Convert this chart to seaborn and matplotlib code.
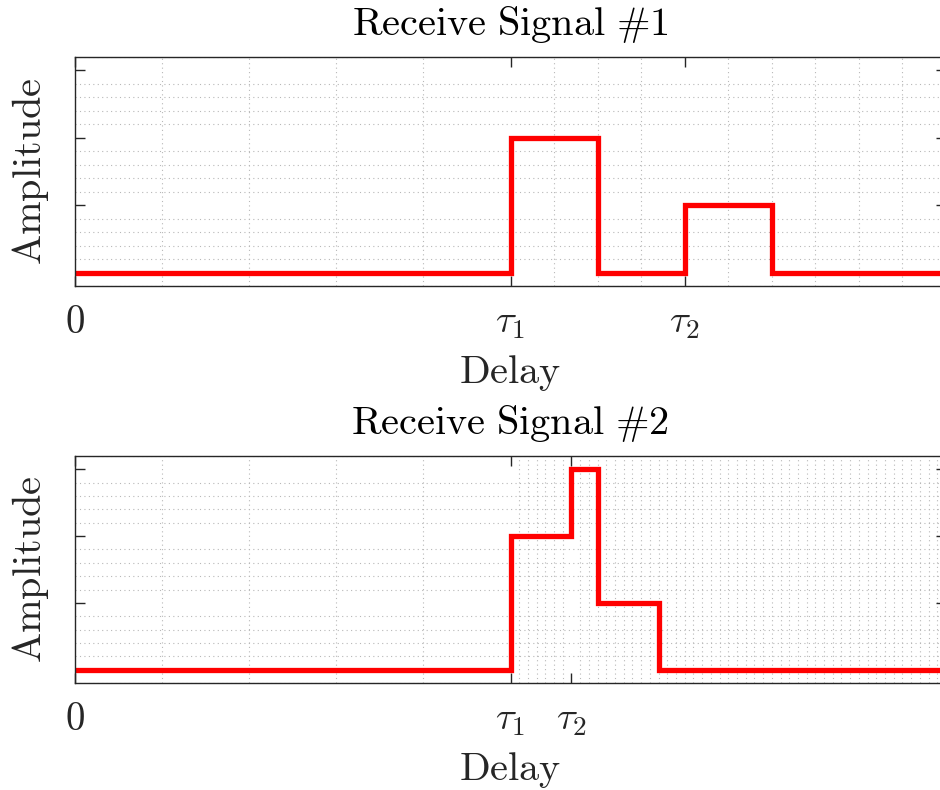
import numpy as np
import pandas as pd
import matplotlib
matplotlib.use("Agg")
import matplotlib.pyplot as plt
from matplotlib.ticker import FixedLocator
import seaborn as sns

# Received pulse trains (step edges and amplitude after each edge)
delay_1 = [0, 5, 6, 7, 8, 10]
amp_1 = [0, 2, 0, 1, 0, 0]
delay_2 = [0, 5, 5.7, 6, 6.7, 10]
amp_2 = [0, 2, 3, 1, 0, 0]

tau_1 = [5, 7]      # delays of the two echoes, signal 1
tau_2 = [5, 5.7]    # delays of the two echoes, signal 2
tick_labels = [r"$0$", r"$\tau_1$", r"$\tau_2$"]
titles = [r"$\mathrm{Receive\ Signal\ \#1}$", r"$\mathrm{Receive\ Signal\ \#2}$"]
x_label = r"$\mathrm{Delay}$"
y_label = r"$\mathrm{Amplitude}$"

sns.set_theme(style="white")
plt.rcParams["mathtext.fontset"] = "cm"
plt.rcParams["font.family"] = ["DejaVu Sans"]

fig = plt.figure(figsize=(9.4, 7.9), dpi=100)
W, H = 940, 790
axes_px = [(75, 57, 946, 286), (75, 456, 946, 683)]

signals = [(delay_1, amp_1, tau_1, 0.5), (delay_2, amp_2, tau_2, 0.1)]
edge = "#262626"
for (l, t, r, b), (dl, am, taus, fine), title in zip(axes_px, signals, titles):
    ax = fig.add_axes([l / W, 1 - b / H, (r - l) / W, (b - t) / H])
    df = pd.DataFrame({"Delay": dl, "Amplitude": am})
    sns.lineplot(data=df, x="Delay", y="Amplitude", ax=ax, color="#ff0000",
                 linewidth=3.8, drawstyle="steps-post", sort=False,
                 estimator=None, solid_joinstyle="miter")
    ax.set_xlim(0, 10)
    ax.set_ylim(-0.2, 3.2)

    ax.set_xticks([0] + taus)
    ax.set_xticklabels(tick_labels, fontsize=28)
    ax.set_yticks([0, 1, 2, 3])
    ax.set_yticklabels([])

    # coarse minor grid before the first echo, finer after it
    xs_minor = list(np.arange(0, 5, 1.0)) + list(np.round(np.arange(5, 10.0001, fine), 3))
    ax.xaxis.set_minor_locator(FixedLocator(xs_minor))
    ax.yaxis.set_minor_locator(FixedLocator(np.round(np.arange(-0.2, 3.21, 0.2), 3)))
    ax.grid(False)
    ax.grid(which="minor", color="#b8b8b8", linestyle=(0, (1, 3)), linewidth=0.8)
    ax.set_axisbelow(True)

    ax.tick_params(which="major", direction="in", length=7, width=1, color=edge,
                   top=True, right=True, bottom=True, left=True, pad=12)
    ax.tick_params(which="minor", length=0)
    for s in ax.spines.values():
        s.set_visible(True)
        s.set_color(edge)
        s.set_linewidth(1.0)

    ax.set_title(title, fontsize=29, pad=16, color="#000000")
    ax.set_xlabel(x_label, fontsize=29, labelpad=9)
    ax.set_ylabel(y_label, fontsize=29, labelpad=5)

fig.savefig("out.png", dpi=100)
